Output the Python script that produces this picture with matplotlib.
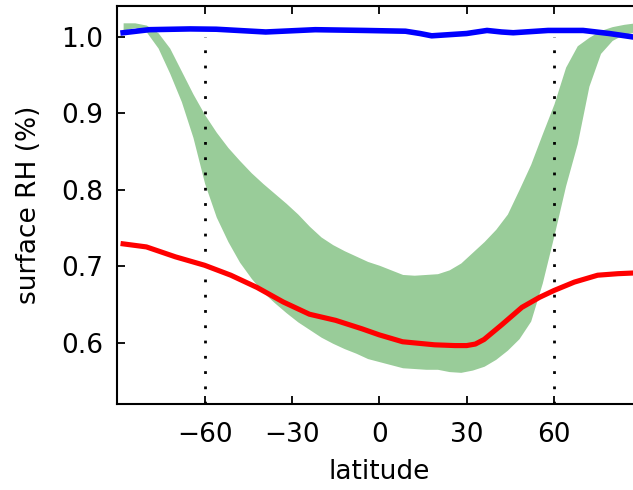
import numpy as np
import matplotlib
matplotlib.use('Agg')
import matplotlib.pyplot as plt

# latitude grid for the model spread (green band)
band_lat = [-88, -84, -80, -76, -72, -68, -64, -60, -56, -52, -48, -44, -40, -36,
            -32, -28, -24, -20, -16, -12, -8, -4, 0, 4, 8, 12, 16, 20, 24, 28,
            32, 36, 40, 44, 48, 52, 56, 60, 64, 68, 72, 76, 80, 84, 88]
band_upper = [1.018, 1.018, 1.015, 1.005, 0.985, 0.955, 0.925, 0.898, 0.875, 0.855,
              0.838, 0.822, 0.808, 0.795, 0.782, 0.768, 0.752, 0.738, 0.728, 0.720,
              0.713, 0.706, 0.701, 0.695, 0.689, 0.688, 0.689, 0.690, 0.695, 0.704,
              0.718, 0.732, 0.748, 0.768, 0.800, 0.833, 0.873, 0.912, 0.960, 0.988,
              0.999, 1.008, 1.013, 1.016, 1.018]
band_lower = [1.008, 1.012, 1.006, 0.985, 0.952, 0.915, 0.868, 0.808, 0.764, 0.732,
              0.705, 0.684, 0.666, 0.652, 0.639, 0.627, 0.617, 0.607, 0.599, 0.592,
              0.586, 0.579, 0.575, 0.571, 0.567, 0.566, 0.565, 0.565, 0.562, 0.561,
              0.564, 0.569, 0.578, 0.590, 0.605, 0.628, 0.678, 0.740, 0.805, 0.860,
              0.935, 0.978, 0.995, 1.003, 1.006]

# red curve
red_lat = [-88, -80, -70, -60, -51, -42, -33, -24, -15, -6, 0, 8, 19, 26, 30, 33,
           36, 42, 49, 55, 60, 67, 75, 82, 88]
red_rh = [0.729, 0.725, 0.712, 0.701, 0.688, 0.672, 0.653, 0.637, 0.629, 0.618,
          0.610, 0.601, 0.597, 0.596, 0.596, 0.598, 0.604, 0.623, 0.646, 0.659,
          0.668, 0.679, 0.688, 0.690, 0.691]

# blue curve
blue_lat = [-88, -79, -65, -56, -39, -22, -5, 9, 14, 18, 22, 30, 37, 42, 46, 58,
            70, 79, 88]
blue_rh = [1.005, 1.009, 1.010, 1.0096, 1.006, 1.009, 1.008, 1.007, 1.004, 1.001,
           1.002, 1.004, 1.008, 1.006, 1.005, 1.008, 1.008, 1.004, 0.999]

xticks = [-60, -30, 0, 30, 60]
yticks = [0.6, 0.7, 0.8, 0.9, 1.0]
marker_lats = [-60, 60]

plt.rcParams['font.family'] = 'DejaVu Sans'
plt.rcParams['xtick.direction'] = 'in'
plt.rcParams['ytick.direction'] = 'in'

fig = plt.figure(figsize=(6.33, 4.9), dpi=100)
ax = fig.add_axes([0.1853, 0.1761, 1.0131 - 0.1853, 0.9878 - 0.1761])

ax.fill_between(band_lat, band_lower, band_upper, color='g', alpha=0.4,
                linewidth=0, zorder=1)
ax.vlines(marker_lats, 0.52, 1.0, colors='k', linestyles=[(0, (1, 4.5))],
          linewidth=2, zorder=2)
ax.plot(red_lat, red_rh, color='r', lw=3.7, zorder=3, solid_joinstyle='round')
ax.plot(blue_lat, blue_rh, color='b', lw=4, zorder=3, solid_joinstyle='round')

ax.set_xlim(-90, 90)
ax.set_ylim(0.52, 1.04)
ax.set_xticks(xticks)
ax.set_yticks(yticks)
ax.set_xticklabels(['\u221260', '\u221230', '0', '30', '60'])
ax.set_yticklabels(['0.6', '0.7', '0.8', '0.9', '1.0'])
ax.tick_params(top=True, right=True, labelsize=19, length=6, width=1.3, pad=13)
ax.tick_params(axis='y', pad=10)
for s in ax.spines.values():
    s.set_linewidth(1.5)

ax.set_xlabel('latitude', fontsize=19, labelpad=8)
ax.set_ylabel('surface RH (%)', fontsize=19, labelpad=14)

fig.savefig('out.png', dpi=100)
